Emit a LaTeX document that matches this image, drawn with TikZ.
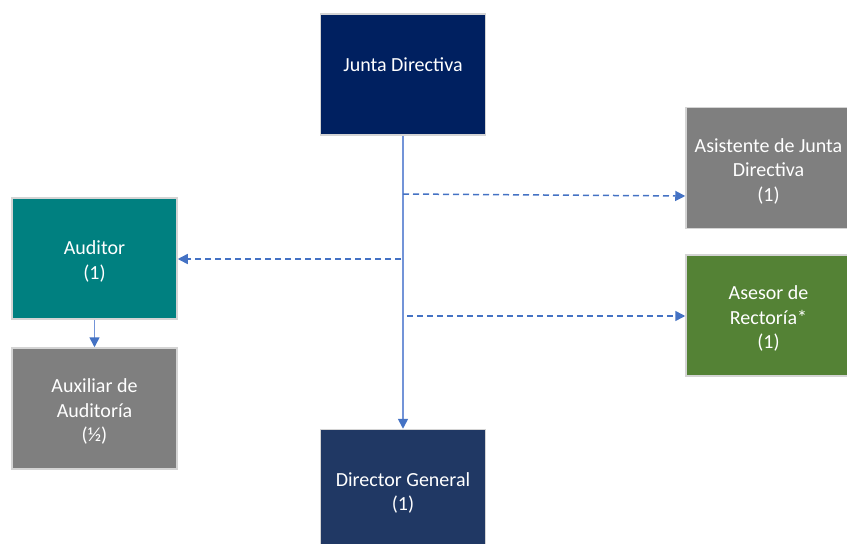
\documentclass[tikz,border=0pt]{standalone}
\usepackage{fontspec}
\setmainfont{Carlito}
\usetikzlibrary{arrows.meta}
\definecolor{navyA}{HTML}{002060}
\definecolor{navyB}{HTML}{203864}
\definecolor{grayBox}{HTML}{7F7F7F}
\definecolor{tealBox}{HTML}{008080}
\definecolor{greenBox}{HTML}{548235}
\definecolor{edgeGray}{HTML}{D4D4D4}
\definecolor{lineBlue}{HTML}{4472C4}
\definecolor{lineLight}{HTML}{7394D8}
\tikzset{
  orgbox/.style={draw=edgeGray, line width=1.5pt, minimum width=165pt, minimum height=121pt,
    inner sep=0pt},
  boxtxt/.style={inner sep=0pt, align=center, text=white, font=\fontsize{20}{24.5}\selectfont},
  solidlink/.style={draw=lineLight, line width=1.6pt, -{Triangle[length=10pt,width=10pt,color=lineBlue]}},
  dashlink/.style={draw=lineBlue, line width=1.5pt, dash pattern=on 6pt off 4pt,
    -{Triangle[length=10pt,width=10pt]}},
}
\begin{document}
\begin{tikzpicture}[x=1pt,y=-1pt]
\useasboundingbox (0,0) rectangle (847,544);
\clip (0,0) rectangle (847,544);
\fill[white] (0,0) rectangle (847,544);
\node[orgbox, fill=navyA] (jd) at (403,74.5) {};
\node[orgbox, fill=grayBox] (as) at (768.5,168) {};
\node[orgbox, fill=greenBox] (ar) at (768.5,315.5) {};
\node[orgbox, fill=tealBox] (au) at (94.5,258.5) {};
\node[orgbox, fill=grayBox] (ax) at (94.5,408.5) {};
\node[orgbox, fill=navyB] (dg) at (403,490) {};
\node[boxtxt] (jdT) at (403,65) {Junta Directiva};
\node[boxtxt] (asT) at ([yshift=-3pt]as.center) {Asistente de Junta\\Directiva\\(1)};
\node[boxtxt] (arT) at ([yshift=-3pt]ar.center) {Asesor de\\Rectoría*\\(1)};
\node[boxtxt] (auT) at ([yshift=-3pt]au.center) {Auditor\\(1)};
\node[boxtxt] (axT) at ([yshift=-3pt]ax.center) {Auxiliar de\\Auditoría\\(½)};
\node[boxtxt] (dgT) at ([yshift=-3pt]dg.center) {Director General\\(1)};
\draw[solidlink] (jd.south) -- (dg.north);
\draw[solidlink] (au.south) -- (ax.north);
\coordinate (p1) at (403,194);
\coordinate (p2) at (401,259);
\coordinate (p3) at (407,316);
\draw[dashlink] (p1) -- (as.west |- 0,196);
\draw[dashlink] (p2) -- (au.east |- p2);
\draw[dashlink] (p3) -- (ar.west |- p3);
\end{tikzpicture}
\end{document}
